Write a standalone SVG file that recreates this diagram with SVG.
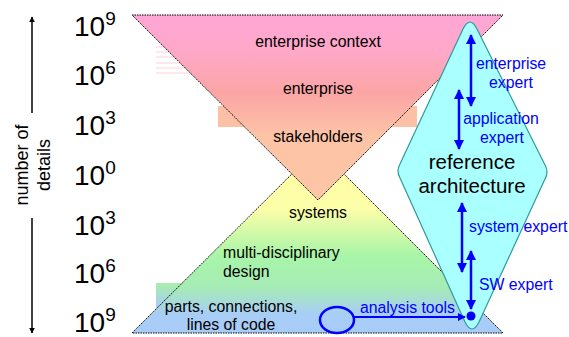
<svg xmlns="http://www.w3.org/2000/svg" width="569" height="337" viewBox="0 0 569 337">
<defs>
<linearGradient id="gTop" x1="0" y1="15" x2="0" y2="200" gradientUnits="userSpaceOnUse">
<stop offset="0" stop-color="#ffa6d6"/>
<stop offset="0.2" stop-color="#ffa8c8"/>
<stop offset="0.42" stop-color="#fba5a5"/>
<stop offset="0.65" stop-color="#fdc3a6"/>
<stop offset="1" stop-color="#fdc6a6"/>
</linearGradient>
<linearGradient id="gBot" x1="0" y1="150" x2="0" y2="333" gradientUnits="userSpaceOnUse">
<stop offset="0" stop-color="#ffffa6"/>
<stop offset="0.32" stop-color="#fdfea8"/>
<stop offset="0.58" stop-color="#a8f5a8"/>
<stop offset="0.75" stop-color="#a6ecb6"/>
<stop offset="0.9" stop-color="#a8cdf6"/>
<stop offset="1" stop-color="#a8ccf8"/>
</linearGradient>
<linearGradient id="gBand" x1="0" y1="283" x2="0" y2="333" gradientUnits="userSpaceOnUse">
<stop offset="0" stop-color="#a8f0a8"/>
<stop offset="0.45" stop-color="#a8cdf6"/>
<stop offset="1" stop-color="#a8ccf8"/>
</linearGradient>
<marker id="ah" viewBox="0 0 10 10" refX="9" refY="5" markerWidth="4" markerHeight="4" orient="auto-start-reverse">
<path d="M0,0 L10,5 L0,10 Z" fill="#0000ff"/>
</marker>
<marker id="ahk" viewBox="0 0 10 10" refX="9" refY="5" markerWidth="4" markerHeight="5" orient="auto-start-reverse">
<path d="M0,0 L10,5 L0,10 Z" fill="#000"/>
</marker>
</defs>
<style>
.lbl{font-family:"Liberation Sans",Arial,sans-serif;font-size:15.8px;fill:#000}
.blue{font-family:"Liberation Sans",Arial,sans-serif;font-size:15.8px;fill:#0000ff}
.pow{font-family:"Liberation Sans",Arial,sans-serif;font-size:28px;fill:#000}
.sup{font-size:19px}
.edge{fill:none;stroke:#000;stroke-width:1;stroke-dasharray:1.5,1}
.barr{stroke:#0000ff;stroke-width:2.5;fill:none}
</style>

<g id="scale">
<text class="pow" x="74" y="36">10<tspan class="sup" dy="-11">9</tspan></text>
<text class="pow" x="74" y="85">10<tspan class="sup" dy="-11">6</tspan></text>
<text class="pow" x="74" y="135">10<tspan class="sup" dy="-11">3</tspan></text>
<text class="pow" x="74" y="185">10<tspan class="sup" dy="-11">0</tspan></text>
<text class="pow" x="74" y="235">10<tspan class="sup" dy="-11">3</tspan></text>
<text class="pow" x="74" y="283">10<tspan class="sup" dy="-11">6</tspan></text>
<text class="pow" x="74" y="332">10<tspan class="sup" dy="-11">9</tspan></text>
</g>

<g id="axis">
<line x1="32" y1="113" x2="32" y2="17" stroke="#000" stroke-width="1.5" marker-end="url(#ahk)"/>
<line x1="32" y1="218" x2="32" y2="333" stroke="#000" stroke-width="1.5" marker-end="url(#ahk)"/>
<text transform="translate(28,165) rotate(-90)" text-anchor="middle" style="font-family:'Liberation Sans',Arial,sans-serif;font-size:18px">number of</text>
<text transform="translate(50,165) rotate(-90)" text-anchor="middle" style="font-family:'Liberation Sans',Arial,sans-serif;font-size:18px">details</text>
</g>

<g id="bottom-pyramid">
<rect x="156" y="283" width="320" height="50" fill="url(#gBand)"/>
<polygon points="132,333 318,148 503,333" fill="url(#gBot)"/>
<path class="edge" d="M132,333 L318,148 L503,333 Z"/>
<text class="lbl" x="318" y="218" text-anchor="middle">systems</text>
<text class="lbl" x="223" y="258">multi-disciplinary</text>
<text class="lbl" x="223" y="277">design</text>
<text class="lbl" x="231" y="312" text-anchor="middle">parts, connections,</text>
<text class="lbl" x="231" y="330" text-anchor="middle">lines of code</text>
</g>

<g id="top-pyramid">
<rect x="218" y="106" width="199" height="21" fill="#fbc0a6"/>
<g stroke="#fbd3da" stroke-width="1">
<line x1="156" y1="47" x2="200" y2="47"/>
<line x1="156" y1="52" x2="200" y2="52"/>
<line x1="156" y1="57" x2="200" y2="57"/>
<line x1="156" y1="63" x2="200" y2="63"/>
<line x1="156" y1="68" x2="200" y2="68"/>
<line x1="156" y1="73" x2="200" y2="73"/>
</g>
<polygon points="132,15 503,15 318,200" fill="url(#gTop)"/>
<path class="edge" d="M132,15 L503,15 L318,200 Z"/>
<text class="lbl" x="318" y="47" text-anchor="middle">enterprise context</text>
<text class="lbl" x="318" y="94" text-anchor="middle">enterprise</text>
<text class="lbl" x="318" y="142" text-anchor="middle">stakeholders</text>
</g>

<g id="reference-architecture">
<path d="M463,29 Q470,15 477,29 L545,165 Q549,172 545,179 L479,322 Q472,336 465,322 L400,178 Q396,171 400,164 Z" fill="#aaffff" stroke="#2e9a9a" stroke-width="1.2"/>
<text x="472" y="169" text-anchor="middle" style="font-family:'Liberation Sans',Arial,sans-serif;font-size:20.5px">reference</text>
<text x="472" y="193" text-anchor="middle" style="font-family:'Liberation Sans',Arial,sans-serif;font-size:20.5px">architecture</text>
</g>

<g id="connectors">
<line class="barr" x1="471" y1="35" x2="471" y2="106" marker-start="url(#ah)" marker-end="url(#ah)"/>
<line class="barr" x1="459" y1="90" x2="459" y2="149" marker-start="url(#ah)" marker-end="url(#ah)"/>
<line class="barr" x1="462" y1="203" x2="462" y2="272" marker-start="url(#ah)" marker-end="url(#ah)"/>
<line class="barr" x1="471" y1="251" x2="471" y2="309" marker-start="url(#ah)" marker-end="url(#ah)"/>
<ellipse cx="337" cy="320" rx="17" ry="13" fill="none" stroke="#0000ff" stroke-width="2.5"/>
<line x1="354" y1="317" x2="465" y2="317" stroke="#0000ff" stroke-width="2" marker-end="url(#ah)"/>
<circle cx="471" cy="316" r="4.5" fill="#0000ff"/>
</g>

<g id="expert-labels">
<text class="blue" x="511" y="69" text-anchor="middle">enterprise</text>
<text class="blue" x="511" y="88" text-anchor="middle">expert</text>
<text class="blue" x="501" y="124" text-anchor="middle">application</text>
<text class="blue" x="502" y="143" text-anchor="middle">expert</text>
<text class="blue" x="469" y="232">system expert</text>
<text class="blue" x="479" y="290">SW expert</text>
<text class="blue" x="360" y="313">analysis tools</text>
</g>
</svg>
